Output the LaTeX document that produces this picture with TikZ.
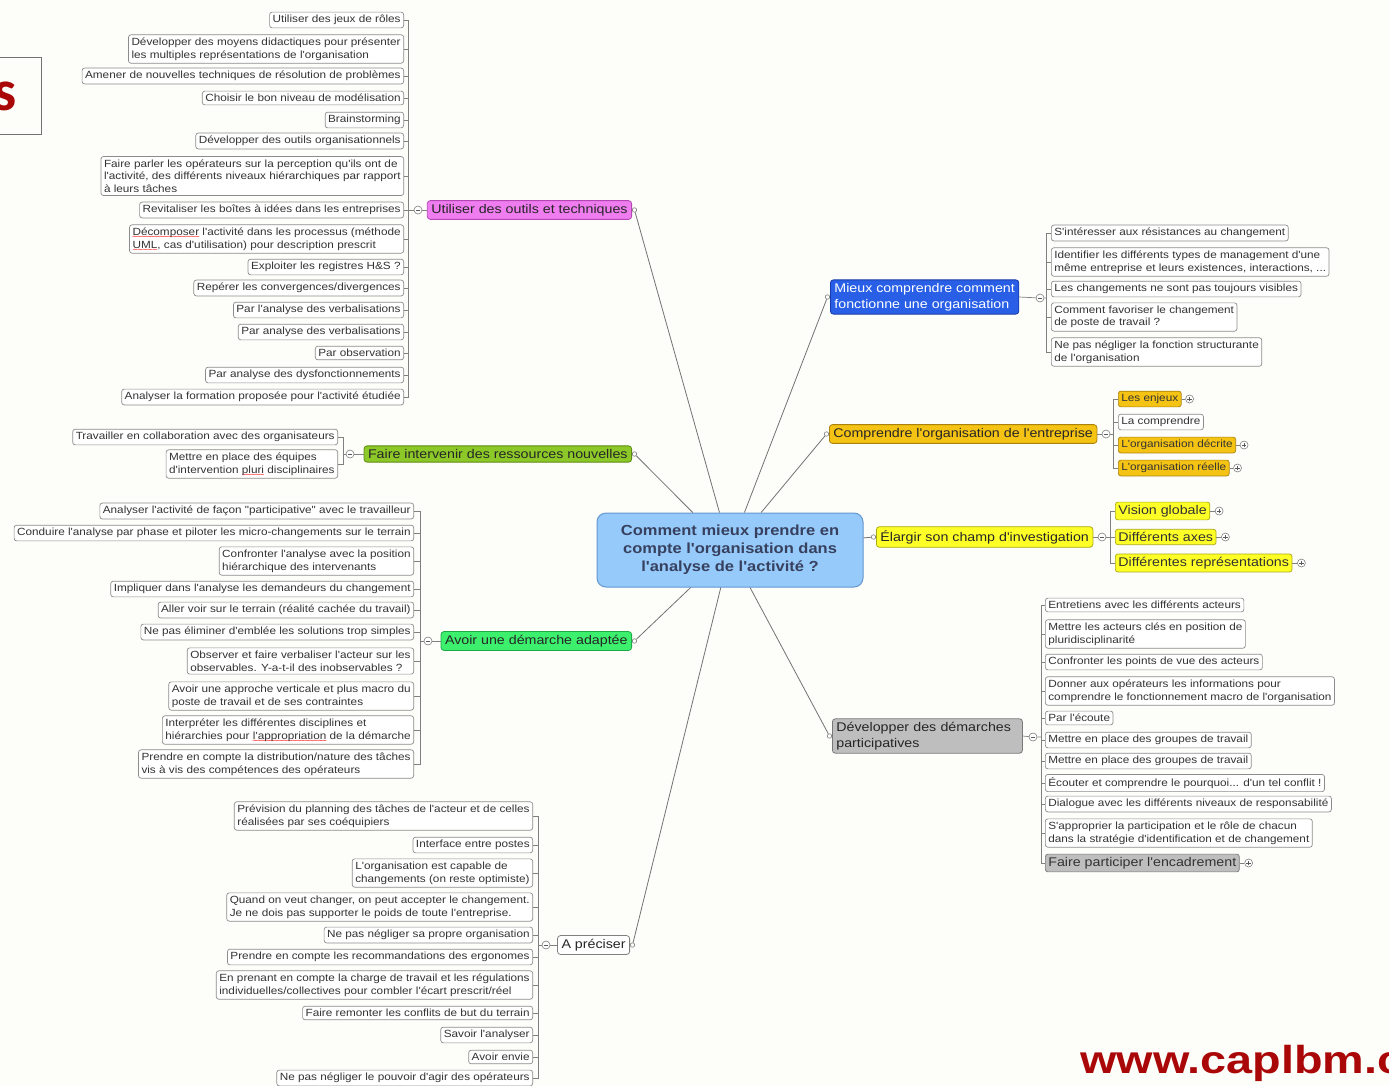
\documentclass[tikz,border=0pt]{standalone}
\usepackage{fontspec}
\setmainfont{Liberation Sans}
\newfontfamily\wfam[FakeStretch=1.13]{Liberation Sans}
\newfontfamily\urlfam[FakeStretch=1.2]{Liberation Sans}
\newfontfamily\calib{Carlito}
\newcommand\leaffont{\wfam\fontsize{10.4}{12.6}\selectfont}
\newcommand\mainfont{\wfam\fontsize{12.6}{15.5}\selectfont}
\newcommand\rootfont{\wfam\bfseries\fontsize{14.6}{18}\selectfont}
\newcommand\redwave[1]{\setbox0=\hbox{#1}\rlap{\textcolor{red}{\raisebox{-4pt}[0pt][0pt]{\hbox to \wd0{\fontsize{8}{8}\selectfont\xleaders\hbox{\kern-0.5pt\char126\kern-0.5pt}\hfil}}}}#1}
\definecolor{bg}{RGB}{253,253,249}
\definecolor{magf}{RGB}{240,125,240}
\definecolor{magd}{RGB}{180,70,180}
\definecolor{olivf}{RGB}{140,200,40}
\definecolor{olivd}{RGB}{95,140,20}
\definecolor{grnf}{RGB}{60,240,110}
\definecolor{grnd}{RGB}{30,170,70}
\definecolor{bluef}{RGB}{40,95,230}
\definecolor{blued}{RGB}{25,60,170}
\definecolor{goldf}{RGB}{245,195,20}
\definecolor{goldd}{RGB}{170,130,10}
\definecolor{yelf}{RGB}{255,255,40}
\definecolor{yeld}{RGB}{170,170,20}
\definecolor{grayf}{RGB}{190,190,190}
\definecolor{grayd}{RGB}{120,120,120}
\definecolor{rootf}{RGB}{150,202,250}
\definecolor{rootd}{RGB}{100,150,210}
\definecolor{roott}{RGB}{55,65,95}
\definecolor{brandred}{RGB}{170,8,8}
\tikzset{
 leaf/.style={draw=black!45, fill=white, rounded corners=2.5pt, line width=0.7pt, inner xsep=3pt, inner ysep=3pt, align=left, font=\leaffont, text=black!80},
 goldleaf/.style={leaf, fill=goldf, draw=goldd},
 yelleaf/.style={leaf, fill=yelf, draw=yeld, font=\mainfont},
 grayleaf/.style={leaf, fill=grayf, draw=grayd, font=\mainfont},
 mainn/.style={draw, rounded corners=3pt, line width=0.8pt, inner xsep=4pt, inner ysep=3.5pt, align=left, font=\mainfont, text=black!85},
 conn/.style={draw=black!55, line width=0.8pt},
 brk/.style={draw=black!50, line width=0.7pt},
 collapse/.style={circle, draw=black!50, fill=white, inner sep=0pt, minimum size=8pt, line width=0.6pt,
   path picture={\draw[black!65, line width=0.7pt] ([xshift=-2.2pt]path picture bounding box.center) -- ([xshift=2.2pt]path picture bounding box.center);}},
 expand/.style={circle, draw=black!50, fill=white, inner sep=0pt, minimum size=8pt, line width=0.6pt,
   path picture={\draw[black!65, line width=0.7pt] ([xshift=-2.2pt]path picture bounding box.center) -- ([xshift=2.2pt]path picture bounding box.center) ([yshift=-2.2pt]path picture bounding box.center) -- ([yshift=2.2pt]path picture bounding box.center);}},
 port/.style={circle, draw=black!50, fill=white, inner sep=0pt, minimum size=4.5pt, line width=0.6pt},
 root/.style={draw=rootd, fill=rootf, rounded corners=9pt, line width=1pt, minimum width=266pt, minimum height=74pt, align=center, font=\rootfont, text=roott},
}
\begin{document}
\begin{tikzpicture}[x=1pt,y=-1pt]
\useasboundingbox (0,0) rectangle (1389,1085);
\clip (0,0) rectangle (1389,1085);
\fill[bg] (0,0) rectangle (1389,1085);

% corner fragments
\draw[black!55, line width=0.8pt] (-5,57) rectangle (41,134);
\node[anchor=base east, inner sep=0pt, font=\calib\bfseries\fontsize{58}{60}\selectfont, text=brandred] (sfrag) at (17,110) {s};
\node[anchor=base west, inner sep=0pt, font=\urlfam\bfseries\fontsize{39}{41}\selectfont, text=brandred] (url) at (1080,1073) {www.caplbm.com};

% root
\node[root] (root) at (730,550) {Comment mieux prendre en\\compte l'organisation dans\\l'analyse de l'activité ?};

% ===== Utiliser des outils et techniques
\node[mainn, fill=magf, draw=magd, anchor=east] (U) at (632,210) {Utiliser des outils et techniques};
\node[port] (pu) at ([xshift=2.5pt]U.east) {};
\node[collapse] (cu) at (418,210) {};
\coordinate (bu) at (408,210);
\node[leaf, anchor=east] (u1) at (404,20) {Utiliser des jeux de rôles};
\node[leaf, anchor=east] (u2) at (404,49) {Développer des moyens didactiques pour présenter\\les multiples représentations de l'organisation};
\node[leaf, anchor=east] (u3) at (404,76) {Amener de nouvelles techniques de résolution de problèmes};
\node[leaf, anchor=east] (u4) at (404,98) {Choisir le bon niveau de modélisation};
\node[leaf, anchor=east] (u5) at (404,120) {Brainstorming};
\node[leaf, anchor=east] (u6) at (404,141) {Développer des outils organisationnels};
\node[leaf, anchor=east] (u7) at (404,176) {Faire parler les opérateurs sur la perception qu'ils ont de\\l'activité, des différents niveaux hiérarchiques par rapport\\à leurs tâches};
\node[leaf, anchor=east] (u8) at (404,210) {Revitaliser les boîtes à idées dans les entreprises};
\node[leaf, anchor=east] (u9) at (404,239) {\redwave{Décomposer} l'activité dans les processus (méthode\\\redwave{UML}, cas d'utilisation) pour description prescrit};
\node[leaf, anchor=east] (u10) at (404,267) {Exploiter les registres H\&S ?};
\node[leaf, anchor=east] (u11) at (404,288) {Repérer les convergences/divergences};
\node[leaf, anchor=east] (u12) at (404,310) {Par l'analyse des verbalisations};
\node[leaf, anchor=east] (u13) at (404,332) {Par analyse des verbalisations};
\node[leaf, anchor=east] (u14) at (404,353) {Par observation};
\node[leaf, anchor=east] (u15) at (404,375) {Par analyse des dysfonctionnements};
\node[leaf, anchor=east] (u16) at (404,397) {Analyser la formation proposée pour l'activité étudiée};
\draw[conn] (root) -- (pu);
\draw[brk] (U.west) -- (cu) -- (bu);
\foreach \n in {u1,u2,u3,u4,u5,u6,u7,u8,u9,u10,u11,u12,u13,u14,u15,u16}{\draw[brk] (bu) |- (\n.east);}

% ===== Faire intervenir des ressources nouvelles
\node[mainn, fill=olivf, draw=olivd, anchor=east] (F) at (632,454) {Faire intervenir des ressources nouvelles};
\node[port] (pf) at ([xshift=2.5pt]F.east) {};
\node[collapse] (cf) at (350,454) {};
\coordinate (bf) at (343,454);
\node[leaf, anchor=east] (f1) at (338,437) {Travailler en collaboration avec des organisateurs};
\node[leaf, anchor=east] (f2) at (338,464) {Mettre en place des équipes\\d'intervention \redwave{pluri} disciplinaires};
\draw[conn] (root) -- (pf);
\draw[brk] (F.west) -- (cf) -- (bf);
\foreach \n in {f1,f2}{\draw[brk] (bf) |- (\n.east);}

% ===== Avoir une démarche adaptée
\node[mainn, fill=grnf, draw=grnd, anchor=east] (A) at (632,641) {Avoir une démarche adaptée};
\node[port] (pa) at ([xshift=2.5pt]A.east) {};
\node[collapse] (ca) at (428,641) {};
\coordinate (ba) at (420,641);
\node[leaf, anchor=east] (a1) at (414,511) {Analyser l'activité de façon "participative" avec le travailleur};
\node[leaf, anchor=east] (a2) at (414,533) {Conduire l'analyse par phase et piloter les micro-changements sur le terrain};
\node[leaf, anchor=east] (a3) at (414,561) {Confronter l'analyse avec la position\\hiérarchique des intervenants};
\node[leaf, anchor=east] (a4) at (414,589) {Impliquer dans l'analyse les demandeurs du changement};
\node[leaf, anchor=east] (a5) at (414,610) {Aller voir sur le terrain (réalité cachée du travail)};
\node[leaf, anchor=east] (a6) at (414,632) {Ne pas éliminer d'emblée les solutions trop simples};
\node[leaf, anchor=east] (a7) at (414,661) {Observer et faire verbaliser l'acteur sur les\\observables. Y-a-t-il des inobservables ?};
\node[leaf, anchor=east] (a8) at (414,696) {Avoir une approche verticale et plus macro du\\poste de travail et de ses contraintes};
\node[leaf, anchor=east] (a9) at (414,730) {Interpréter les différentes disciplines et\\hiérarchies pour \redwave{l'appropriation} de la démarche};
\node[leaf, anchor=east] (a10) at (414,764) {Prendre en compte la distribution/nature des tâches\\vis à vis des compétences des opérateurs};
\draw[conn] (root) -- (pa);
\draw[brk] (A.west) -- (ca) -- (ba);
\foreach \n in {a1,a2,a3,a4,a5,a6,a7,a8,a9,a10}{\draw[brk] (ba) |- (\n.east);}

% ===== A préciser
\node[mainn, fill=white, draw=black!50, anchor=east] (P) at (630,945) {A préciser};
\node[port] (pp) at ([xshift=2.5pt]P.east) {};
\node[collapse] (cp) at (546,945) {};
\coordinate (bp) at (538,945);
\node[leaf, anchor=east] (p1) at (533,816) {Prévision du planning des tâches de l'acteur et de celles\\réalisées par ses coéquipiers};
\node[leaf, anchor=east] (p2) at (533,845) {Interface entre postes};
\node[leaf, anchor=east] (p3) at (533,873) {L'organisation est capable de\\changements (on reste optimiste)};
\node[leaf, anchor=east] (p4) at (533,907) {Quand on veut changer, on peut accepter le changement.\\Je ne dois pas supporter le poids de toute l'entreprise.};
\node[leaf, anchor=east] (p5) at (533,935) {Ne pas négliger sa propre organisation};
\node[leaf, anchor=east] (p6) at (533,957) {Prendre en compte les recommandations des ergonomes};
\node[leaf, anchor=east] (p7) at (533,985) {En prenant en compte la charge de travail et les régulations\\individuelles/collectives pour combler l'écart prescrit/réel};
\node[leaf, anchor=east] (p8) at (533,1013) {Faire remonter les conflits de but du terrain};
\node[leaf, anchor=east] (p9) at (533,1035) {Savoir l'analyser};
\node[leaf, anchor=east] (p10) at (533,1057) {Avoir envie};
\node[leaf, anchor=east] (p11) at (533,1078) {Ne pas négliger le pouvoir d'agir des opérateurs};
\draw[conn] (root) -- (pp);
\draw[brk] (P.west) -- (cp) -- (bp);
\foreach \n in {p1,p2,p3,p4,p5,p6,p7,p8,p9,p10,p11}{\draw[brk] (bp) |- (\n.east);}

% ===== Mieux comprendre comment fonctionne une organisation
\node[mainn, fill=bluef, draw=blued, text=white, anchor=west] (M) at (830,297) {Mieux comprendre comment\\fonctionne une organisation};
\node[port] (pm) at ([xshift=-2.5pt]M.west) {};
\node[collapse] (cm) at (1040,298) {};
\coordinate (bm) at (1046,298);
\node[leaf, anchor=west] (m1) at (1051,233) {S'intéresser aux résistances au changement};
\node[leaf, anchor=west] (m2) at (1051,262) {Identifier les différents types de management d'une\\même entreprise et leurs existences, interactions, ...};
\node[leaf, anchor=west] (m3) at (1051,289) {Les changements ne sont pas toujours visibles};
\node[leaf, anchor=west] (m4) at (1051,317) {Comment favoriser le changement\\de poste de travail ?};
\node[leaf, anchor=west] (m5) at (1051,352) {Ne pas négliger la fonction structurante\\de l'organisation};
\draw[conn] (root) -- (pm);
\draw[brk] (M.east) -- (cm) -- (bm);
\foreach \n in {m1,m2,m3,m4,m5}{\draw[brk] (bm) |- (\n.west);}

% ===== Comprendre l'organisation de l'entreprise
\node[mainn, fill=goldf, draw=goldd, anchor=west] (C) at (829,434) {Comprendre l'organisation de l'entreprise};
\node[port] (pc) at ([xshift=-2.5pt]C.west) {};
\node[collapse] (cc) at (1106,434) {};
\coordinate (bc) at (1113,434);
\node[goldleaf, anchor=west] (c1) at (1118,399) {Les enjeux};
\node[leaf, anchor=west] (c2) at (1118,422) {La comprendre};
\node[goldleaf, anchor=west] (c3) at (1118,445) {L'organisation décrite};
\node[goldleaf, anchor=west] (c4) at (1118,468) {L'organisation réelle};
\node[expand] (xc1) at ([xshift=8pt]c1.east) {};
\node[expand] (xc3) at ([xshift=8pt]c3.east) {};
\node[expand] (xc4) at ([xshift=8pt]c4.east) {};
\draw[conn] (root) -- (pc);
\draw[brk] (C.east) -- (cc) -- (bc);
\foreach \n in {c1,c2,c3,c4}{\draw[brk] (bc) |- (\n.west);}
\foreach \n/\x in {c1/xc1,c3/xc3,c4/xc4}{\draw[brk] (\n.east) -- (\x);}

% ===== Elargir son champ d'investigation
\node[mainn, fill=yelf, draw=yeld, anchor=west] (E) at (876,537) {Élargir son champ d'investigation};
\node[port] (pe) at ([xshift=-2.5pt]E.west) {};
\node[collapse] (ce) at (1102,537) {};
\coordinate (be) at (1110,537);
\node[yelleaf, anchor=west] (e1) at (1115,511) {Vision globale};
\node[yelleaf, anchor=west] (e2) at (1115,537) {Différents axes};
\node[yelleaf, anchor=west] (e3) at (1115,563) {Différentes représentations};
\node[expand] (xe1) at ([xshift=9pt]e1.east) {};
\node[expand] (xe2) at ([xshift=9pt]e2.east) {};
\node[expand] (xe3) at ([xshift=9pt]e3.east) {};
\draw[conn] (root) -- (pe);
\draw[brk] (E.east) -- (ce) -- (be);
\foreach \n in {e1,e2,e3}{\draw[brk] (be) |- (\n.west);}
\foreach \n/\x in {e1/xe1,e2/xe2,e3/xe3}{\draw[brk] (\n.east) -- (\x);}

% ===== Developper des demarches participatives
\node[mainn, fill=grayf, draw=grayd, anchor=west, text width=182pt] (D) at (832,736) {Développer des démarches\\participatives};
\node[port] (pd) at ([xshift=-2.5pt]D.west) {};
\node[collapse] (cd) at (1033,737) {};
\coordinate (bd) at (1041,737);
\node[leaf, anchor=west] (d1) at (1045,605) {Entretiens avec les différents acteurs};
\node[leaf, anchor=west] (d2) at (1045,634) {Mettre les acteurs clés en position de\\pluridisciplinarité};
\node[leaf, anchor=west] (d3) at (1045,662) {Confronter les points de vue des acteurs};
\node[leaf, anchor=west] (d4) at (1045,691) {Donner aux opérateurs les informations pour\\comprendre le fonctionnement macro de l'organisation};
\node[leaf, anchor=west] (d5) at (1045,718) {Par l'écoute};
\node[leaf, anchor=west] (d6) at (1045,740) {Mettre en place des groupes de travail};
\node[leaf, anchor=west] (d7) at (1045,761) {Mettre en place des groupes de travail};
\node[leaf, anchor=west] (d8) at (1045,783) {Écouter et comprendre le pourquoi... d'un tel conflit !};
\node[leaf, anchor=west] (d9) at (1045,804) {Dialogue avec les différents niveaux de responsabilité};
\node[leaf, anchor=west] (d10) at (1045,833) {S'approprier la participation et le rôle de chacun\\dans la stratégie d'identification et de changement};
\node[grayleaf, anchor=west] (d11) at (1045,863) {Faire participer l'encadrement};
\node[expand] (xd11) at ([xshift=9pt]d11.east) {};
\draw[conn] (root) -- (pd);
\draw[brk] (D.east) -- (cd) -- (bd);
\foreach \n in {d1,d2,d3,d4,d5,d6,d7,d8,d9,d10,d11}{\draw[brk] (bd) |- (\n.west);}
\draw[brk] (d11.east) -- (xd11);
\end{tikzpicture}
\end{document}
